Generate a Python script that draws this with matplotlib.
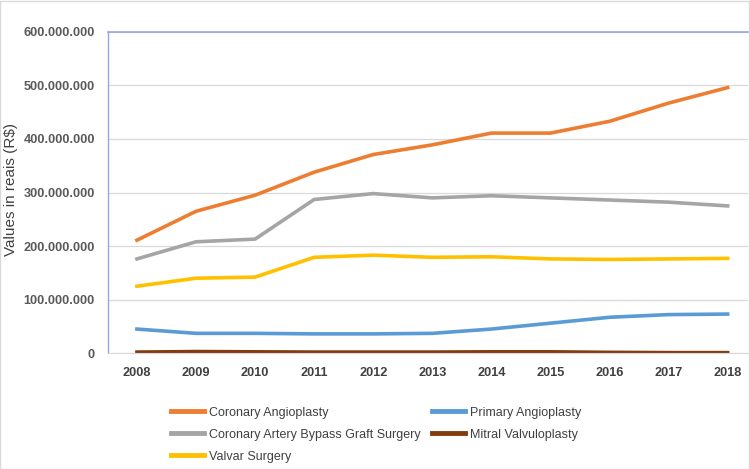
import matplotlib
matplotlib.use("Agg")
import matplotlib.pyplot as plt
from matplotlib.ticker import FuncFormatter
from matplotlib.patches import Rectangle

years = [2008, 2009, 2010, 2011, 2012, 2013, 2014, 2015, 2016, 2017, 2018]
coronary_angioplasty = [211e6, 265e6, 295e6, 338e6, 371e6, 389e6, 411e6, 411e6, 433e6, 467e6, 496e6]
cabg = [176e6, 208e6, 213e6, 287e6, 298e6, 290e6, 294e6, 290e6, 286e6, 282e6, 275e6]
valvar = [125e6, 140e6, 142e6, 179e6, 183e6, 179e6, 180e6, 176e6, 175e6, 176e6, 177e6]
primary = [45e6, 37e6, 37e6, 36e6, 36e6, 37e6, 45e6, 56e6, 67e6, 72e6, 73e6]
mitral = [2e6, 3e6, 2.5e6, 2e6, 2e6, 2e6, 2.5e6, 2.5e6, 1.5e6, 1e6, 1e6]
yticks = [0, 100e6, 200e6, 300e6, 400e6, 500e6, 600e6]

plt.rcParams["font.family"] = ["Liberation Sans", "DejaVu Sans"]

fig = plt.figure(figsize=(7.5, 4.69), dpi=100)
ax = fig.add_axes([0.144, 0.247, 0.853, 0.685])

lw = 2.6
l1, = ax.plot(years, coronary_angioplasty, color="#ED7D31", lw=lw, label="Coronary Angioplasty")
l2, = ax.plot(years, cabg, color="#A5A5A5", lw=lw, label="Coronary Artery Bypass Graft Surgery")
l3, = ax.plot(years, valvar, color="#FFC000", lw=lw, label="Valvar Surgery")
l4, = ax.plot(years, primary, color="#5B9BD5", lw=lw, label="Primary Angioplasty")
l5, = ax.plot(years, mitral, color="#843C0C", lw=lw, label="Mitral Valvuloplasty")

ax.set_xlim(2007.51, 2018.34)
ax.set_ylim(0, 600e6)
ax.set_yticks(yticks)
ax.yaxis.set_major_formatter(FuncFormatter(lambda v, p: "0" if v == 0 else f"{int(v):,}".replace(",", ".")))
ax.set_xticks(years)
ax.grid(axis="y", color="#D9D9D9", lw=0.9)
ax.set_axisbelow(True)
ax.spines["right"].set_visible(False)
ax.spines["left"].set_color("#8FAADC")
ax.spines["top"].set_color("#8FAADC")
ax.spines["left"].set_linewidth(1.0)
ax.spines["top"].set_linewidth(1.2)
ax.spines["bottom"].set_color("#D9D9D9")
ax.tick_params(length=0)
for lab in ax.get_yticklabels():
    lab.set_fontweight("bold"); lab.set_color("#595959"); lab.set_fontsize(9.2)
for lab in ax.get_xticklabels():
    lab.set_fontweight("bold"); lab.set_color("#404040"); lab.set_fontsize(9.2)
ax.tick_params(axis="x", pad=10)
ax.tick_params(axis="y", pad=9.5)

fig.text(0.006, 0.595, "Values in reais (R$)", rotation=90, ha="left", va="center",
         fontsize=11, color="#404040")

leg = fig.legend(handles=[l1, l2, l3, l4, l5], loc="upper left", bbox_to_anchor=(0.214, 0.154),
                 ncol=2, frameon=False, handlelength=2.65, columnspacing=0.9,
                 labelspacing=0.8, handletextpad=0.4, borderpad=0.3,
                 prop={"family": "Liberation Sans", "size": 9})
for t in leg.get_texts():
    t.set_color("#404040")
for h in leg.get_lines():
    h.set_linewidth(3.5)

fig.patches.append(Rectangle((0.0, 0.0), 0.998, 0.997, transform=fig.transFigure, fill=False,
                             edgecolor="#D9D9D9", lw=1.0))

fig.savefig("out.png", dpi=100)
